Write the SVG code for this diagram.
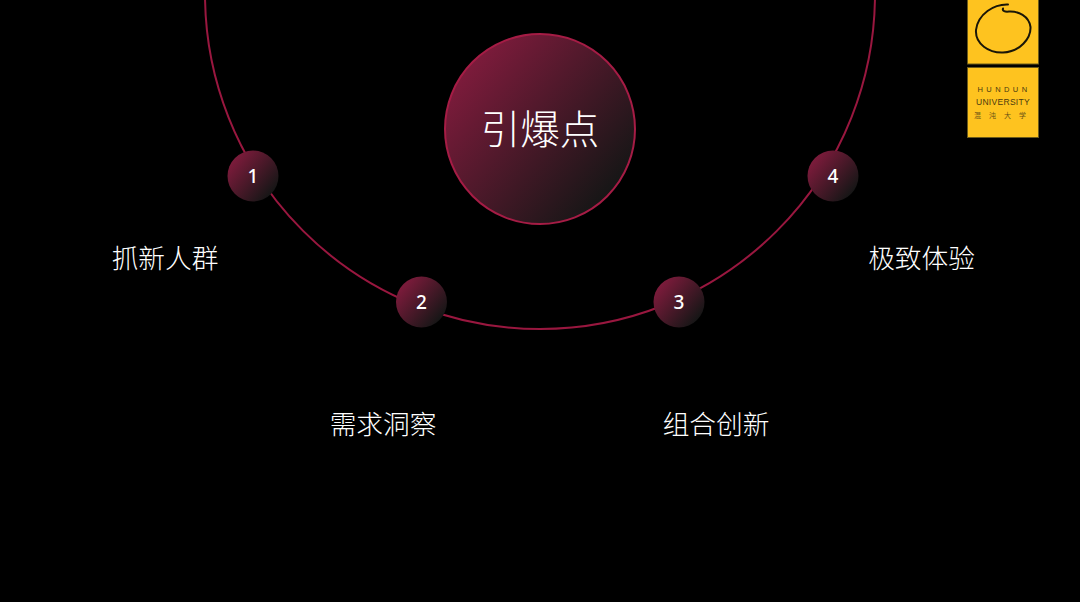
<svg xmlns="http://www.w3.org/2000/svg" width="1080" height="602" viewBox="0 0 1080 602">
<style>
.cjk{font-family:"Noto Sans CJK SC","Liberation Sans",sans-serif;font-weight:300;fill:#fff;text-anchor:middle}
.lab{font-size:26.7px}
.num{font-family:"Noto Sans","Liberation Sans",sans-serif;font-size:19px;font-weight:500;fill:#fff;text-anchor:middle}
.dot{fill:url(#g)}
.lg{font-family:"Liberation Sans",sans-serif;fill:#4a3a10;text-anchor:middle}
.pl{fill:#fec31f;stroke:#6b5a1a;stroke-width:1}
</style>
<defs>
<linearGradient id="g" x1="0.12" y1="0.18" x2="0.88" y2="0.82">
<stop offset="0" stop-color="#7c1b3b"/><stop offset="1" stop-color="#161616"/>
</linearGradient>
</defs>
<rect width="1080" height="602" fill="#000"/>
<g id="connectors"><circle cx="540" cy="-6" r="335" fill="none" stroke="#99173f" stroke-width="2"/></g>
<g id="center"><circle cx="540" cy="129" r="95" fill="url(#g)" stroke="#a51c45" stroke-width="2"/><text class="cjk" x="540" y="144" font-size="39.5">引爆点</text></g>
<g id="node1"><circle class="dot" cx="253" cy="176" r="25.5"/><text class="num" x="253" y="182.500">1</text></g>
<g id="node2"><circle class="dot" cx="421.500" cy="302" r="25.500"/><text class="num" x="421.500" y="308.500">2</text></g>
<g id="node3"><circle class="dot" cx="679" cy="302" r="25.500"/><text class="num" x="679" y="308.500">3</text></g>
<g id="node4"><circle class="dot" cx="833" cy="176" r="25.500"/><text class="num" x="833" y="182.500">4</text></g>
<g id="label1"><text class="cjk lab" x="165" y="268">抓新人群</text></g>
<g id="label2"><text class="cjk lab" x="383" y="434">需求洞察</text></g>
<g id="label3"><text class="cjk lab" x="716" y="434">组合创新</text></g>
<g id="label4"><text class="cjk lab" x="921.500" y="268">极致体验</text></g>
<g id="logo">
<rect class="pl" x="967.500" y="-2" width="71" height="66"/>
<rect class="pl" x="967.500" y="67.500" width="71" height="70"/>
<path d="M1008 4.500C994 4 978 14 976 30C975 44 989 53 1003 52.500C1020 52 1031 38 1030.500 27C1029 16 1018 11 1009 11.500C1005 12 1002 11 1003 8.500" fill="none" stroke="#1a1608" stroke-width="2" stroke-linecap="round"/>
<text class="lg" x="1004" y="92" font-size="7.500" letter-spacing="3.400">HUNDUN</text>
<text class="lg" x="1003" y="105" font-size="8.500" letter-spacing="0.300">UNIVERSITY</text>
<text x="1004" y="118" font-size="7" letter-spacing="8" text-anchor="middle" fill="#6b5316" font-family="'Noto Sans CJK SC',sans-serif">混沌大学</text>
</g>
</svg>
